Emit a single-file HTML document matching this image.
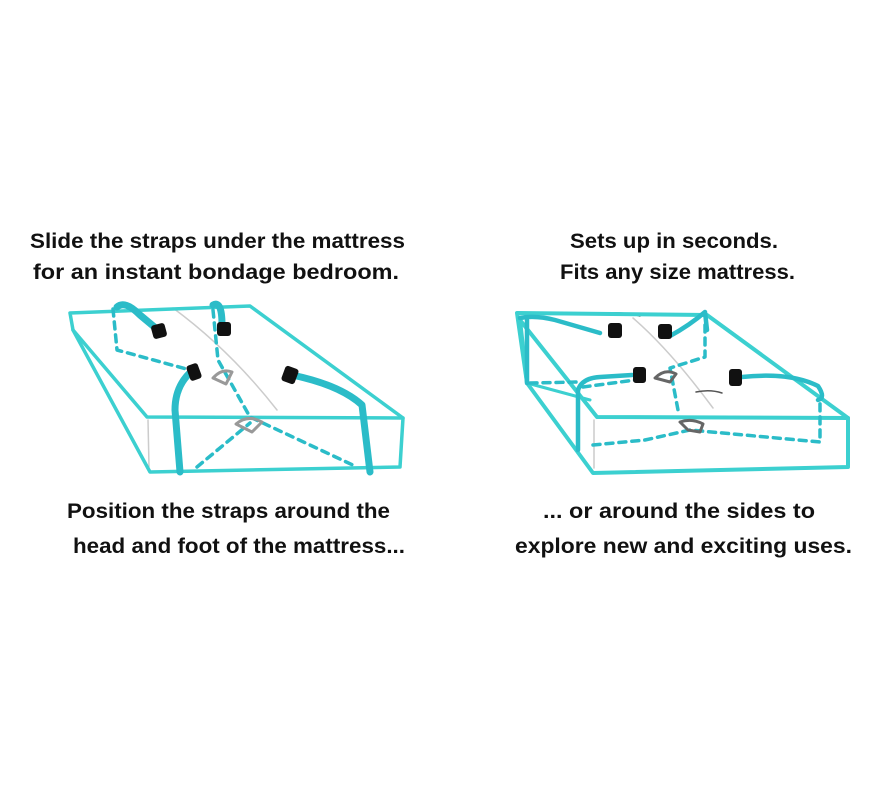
<!DOCTYPE html>
<html><head><meta charset="utf-8"><style>
html,body{margin:0;padding:0;background:#fff;}
svg{display:block}
text{font-family:"Liberation Sans",sans-serif;font-size:21px;fill:#111;font-weight:bold;}
</style></head><body>
<svg width="883" height="805" viewBox="0 0 883 805" xmlns="http://www.w3.org/2000/svg">
<rect width="883" height="805" fill="#fff"/>
<text x="30" y="248" textLength="375" lengthAdjust="spacingAndGlyphs">Slide the straps under the mattress</text>
<text x="33" y="279" textLength="366" lengthAdjust="spacingAndGlyphs">for an instant bondage bedroom.</text>
<text x="570" y="248" textLength="208" lengthAdjust="spacingAndGlyphs">Sets up in seconds.</text>
<text x="560" y="279" textLength="235" lengthAdjust="spacingAndGlyphs">Fits any size mattress.</text>
<text x="67" y="518" textLength="323" lengthAdjust="spacingAndGlyphs">Position the straps around the</text>
<text x="73" y="553" textLength="332" lengthAdjust="spacingAndGlyphs">head and foot of the mattress...</text>
<text x="543" y="518" textLength="272" lengthAdjust="spacingAndGlyphs">... or around the sides to</text>
<text x="515" y="553" textLength="337" lengthAdjust="spacingAndGlyphs">explore new and exciting uses.</text>

<!-- LEFT MATTRESS -->
<g fill="none" stroke-linecap="round" stroke-linejoin="round">
<path d="M173 308 Q230 350 277 410" stroke="#ccc" stroke-width="1.5"/>
<path d="M148 420 L149 467" stroke="#ccc" stroke-width="1.5"/>
<path d="M70 313 L250 306 L403 418 L400 467 L150 472 L73 330 Z" stroke="#3cd0d0" stroke-width="3.5"/>
<path d="M73 330 L147 417 L403 418" stroke="#3cd0d0" stroke-width="3.5"/>
<g stroke="#2bbcc8" stroke-width="3.5" stroke-dasharray="7 6">
<path d="M113 309 L117 350 L190 370"/>
<path d="M213 310 L218 360 L250 417 L357 467"/>
<path d="M197 467 L250 423"/>
</g>
<g stroke="#2bbcc8" stroke-width="7">
<path d="M117 307 Q125 300 140 315 L158 330"/>
<path d="M213 305 Q222 300 222 325"/>
<path d="M193 370 Q175 385 175 410 L180 472"/>
<path d="M292 375 Q340 385 362 405 L370 472"/>
</g>
<g stroke="#999" stroke-width="3">
<path d="M213 378 Q222 368 232 372 L226 384 Z"/>
<path d="M236 424 Q248 414 262 422 L252 432 Z"/>
</g>
</g>
<g fill="#111">
<rect x="152" y="324" width="14" height="14" rx="3" transform="rotate(-15 159 331)"/>
<rect x="217" y="322" width="14" height="14" rx="3"/>
<rect x="188" y="364" width="12" height="16" rx="3" transform="rotate(-20 194 372)"/>
<rect x="283" y="367" width="14" height="16" rx="3" transform="rotate(20 290 375)"/>
</g>

<!-- RIGHT MATTRESS -->
<g fill="none" stroke-linecap="round" stroke-linejoin="round">
<path d="M633 318 Q670 350 713 408" stroke="#ccc" stroke-width="1.5"/>
<path d="M594 420 L594 468" stroke="#ccc" stroke-width="1.5"/>
<path d="M601 314 Q620 311 640 316" stroke="#555" stroke-width="1.5"/>
<path d="M696 392 Q710 389 722 393" stroke="#555" stroke-width="1.5"/>
<path d="M517 313 L707 315 L848 418 L848 467 L593 473 L527 383 Z" stroke="#3cd0d0" stroke-width="4"/>
<path d="M527 383 L520 320 L597 417 L848 418" stroke="#3cd0d0" stroke-width="4"/>
<path d="M527 383 L590 400" stroke="#3cd0d0" stroke-width="3"/>
<g stroke="#2bbcc8" stroke-width="3.5" stroke-dasharray="7 6">
<path d="M530 383 L578 382"/>
<path d="M583 387 L635 380"/>
<path d="M705 325 L705 357 L670 368 L678 410"/>
<path d="M593 445 L645 440 L690 430 L820 442 L820 400"/>
</g>
<g stroke="#2bbcc8" stroke-width="4.5">
<path d="M520 318 Q535 315 555 320 L600 333"/>
<path d="M527 320 L527 383"/>
<path d="M670 336 Q690 325 705 312 L707 330"/>
<path d="M578 390 Q582 378 600 377 L632 375"/>
<path d="M578 390 L578 450"/>
<path d="M742 377 Q790 372 818 386 Q826 398 818 400"/>
</g>
<g stroke="#666" stroke-width="3">
<path d="M655 378 Q665 368 676 374 L670 382 Z"/>
<path d="M680 422 Q692 418 703 424 L700 432 L688 430 Z"/>
</g>
</g>
<g fill="#111">
<rect x="608" y="323" width="14" height="15" rx="3"/>
<rect x="658" y="324" width="14" height="15" rx="3"/>
<rect x="633" y="367" width="13" height="16" rx="3"/>
<rect x="729" y="369" width="13" height="17" rx="3"/>
</g>
</svg>
</body></html>
